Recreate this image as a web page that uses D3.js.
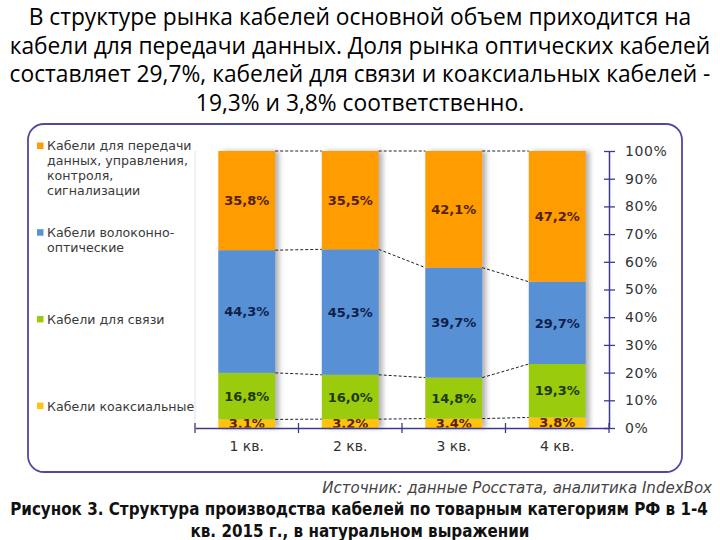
<!DOCTYPE html>
<html><head><meta charset="utf-8">
<script src="https://cdn.jsdelivr.net/npm/d3@7/dist/d3.min.js"></script>
<style>body{margin:0;background:#fff}</style></head>
<body><svg id="c" width="720" height="540"></svg>
<script>
// ---- data ----
const quarters = ["1 кв.", "2 кв.", "3 кв.", "4 кв."];
const seriesKeys = ["coax", "comm", "fiber", "data"];
const coaxial = [3.1, 3.2, 3.4, 3.8];
const communication = [16.8, 16.0, 14.8, 19.3];
const fiberOptic = [44.3, 45.3, 39.7, 29.7];
const dataCables = [35.8, 35.5, 42.1, 47.2];
const yTicks = [0, 10, 20, 30, 40, 50, 60, 70, 80, 90, 100];
const legendLabels = [
  ["Кабели для передачи", "данных, управления,", "контроля,", "сигнализации"],
  ["Кабели волоконно-", "оптические"],
  ["Кабели для связи"],
  ["Кабели коаксиальные"]
];
const legendKeys = ["data", "fiber", "comm", "coax"];
const titleLines = [
  "В структуре рынка кабелей основной объем приходится на",
  "кабели для передачи данных. Доля рынка оптических кабелей",
  "составляет 29,7%, кабелей для связи и коаксиальных кабелей -",
  "19,3% и 3,8% соответственно."
];
const sourceText = "Источник: данные Росстата, аналитика IndexBox";
const captionLines = [
  "Рисунок 3. Структура производства кабелей по товарным категориям РФ в 1-4",
  "кв. 2015 г., в натуральном выражении"
];

// ---- styles ----
const fill = {coax: "#FFC20E", comm: "#9BCB0C", fiber: "#5990D6", data: "#FF9C05"};
const labelColor = {coax: "#5a2400", comm: "#1f3800", fiber: "#0e1f4a", data: "#521f00"};
const axisColor = "#3d3a8e";

const rows = quarters.map((q, i) => ({q, coax: coaxial[i], comm: communication[i], fiber: fiberOptic[i], data: dataCables[i]}));
const stacked = d3.stack().keys(seriesKeys)(rows);

const svg = d3.select("#c");

const defs = svg.append("defs");
const f = defs.append("filter").attr("id", "sh").attr("x", "-20%").attr("y", "-5%").attr("width", "150%").attr("height", "110%");
f.append("feDropShadow").attr("dx", 4).attr("dy", 0).attr("stdDeviation", 2.5).attr("flood-color", "#777").attr("flood-opacity", 0.55);
defs.append("clipPath").attr("id", "plotclip").append("rect").attr("x", 150).attr("y", 140).attr("width", 460).attr("height", 287.5);

// title
const title = svg.append("g").attr("font-family", "'Open Sans', 'Noto Sans', sans-serif").attr("fill", "#000");
titleLines.forEach((t, i) => {
  title.append("text").attr("x", 360).attr("y", 25 + i * 28.6).attr("text-anchor", "middle").attr("font-size", 20).text(t);
});
{
  const n = title.selectAll("text").nodes();
  const w = n[1].getComputedTextLength();
  const fs = 20 * 701 / w;
  title.selectAll("text").attr("font-size", fs);
}

// chart box
svg.append("rect").attr("x", 28).attr("y", 124).attr("width", 654).attr("height", 348).attr("rx", 16)
  .attr("fill", "#fff").attr("stroke", "#4f4aa0").attr("stroke-width", 1.8);

// scales
const x = d3.scaleBand().domain(quarters).range([195, 609]).paddingInner(0.45).paddingOuter(0.225);
const xb = d3.scaleBand().domain(quarters).range([195, 609]);
const y = d3.scaleLinear().domain([0, 100]).range([428, 151]);

// plot left border
svg.append("line").attr("x1", 195).attr("x2", 195).attr("y1", y(100)).attr("y2", y(0)).attr("stroke", "#e2e2e2");

// bars
const barG = svg.append("g");
quarters.forEach((q, i) => {
  const g = barG.append("g").attr("filter", "url(#sh)");
  stacked.forEach(s => {
    const d = s[i];
    g.append("rect").attr("x", x(q)).attr("width", x.bandwidth())
      .attr("y", y(d[1])).attr("height", y(d[0]) - y(d[1])).attr("fill", fill[s.key]);
  });
});

// connector dashed lines
const conn = svg.append("g").attr("stroke", "#222").attr("stroke-width", 1).attr("stroke-dasharray", "3,2").attr("fill", "none");
stacked.forEach(s => {
  for (let i = 0; i < quarters.length - 1; i++) {
    conn.append("line")
      .attr("x1", x(quarters[i]) + x.bandwidth()).attr("y1", y(s[i][1]))
      .attr("x2", x(quarters[i + 1])).attr("y2", y(s[i + 1][1]));
  }
});

// data labels
const lab = svg.append("g").attr("clip-path", "url(#plotclip)").attr("font-family", "'DejaVu Sans', Verdana, sans-serif")
  .attr("font-weight", "bold").attr("font-size", 13).attr("text-anchor", "middle");
stacked.forEach(s => {
  quarters.forEach((q, i) => {
    const d = s[i];
    lab.append("text").attr("x", x(q) + x.bandwidth() / 2).attr("y", (y(d[0]) + y(d[1])) / 2)
      .attr("dy", "0.36em").attr("fill", labelColor[s.key])
      .text(d3.format(".1f")(d[1] - d[0]).replace(".", ",") + "%");
  });
});

// right y axis
const yAxis = d3.axisRight(y).tickValues(yTicks).tickSize(0).tickPadding(16).tickFormat(d => d + "%");
const ya = svg.append("g").attr("transform", "translate(609,0)").call(yAxis);
ya.select(".domain").attr("stroke", axisColor).attr("stroke-width", 1.5);
ya.selectAll(".tick text").attr("font-family", "'DejaVu Sans', Verdana, sans-serif").attr("font-size", 14).attr("letter-spacing", 0.6).attr("fill", "#333");
ya.selectAll(".tick").append("line").attr("x1", -5).attr("x2", 6).attr("stroke", axisColor).attr("stroke-width", 1.3);

// bottom x axis
const xAxis = d3.axisBottom(xb).tickSize(0).tickPadding(13);
const xa = svg.append("g").attr("transform", "translate(0,428)").call(xAxis);
xa.select(".domain").attr("stroke", axisColor).attr("stroke-width", 1.5);
xa.selectAll(".tick text").attr("font-family", "'DejaVu Sans', Verdana, sans-serif").attr("font-size", 14).attr("fill", "#333");
const bounds = quarters.map(q => xb(q)).concat([xb.range()[1]]);
xa.selectAll(".xt").data(bounds).enter().append("line").attr("class", "xt")
  .attr("x1", d => d).attr("x2", d => d).attr("y1", -5).attr("y2", 5).attr("stroke", axisColor).attr("stroke-width", 1.3);

// legend
const leg = svg.append("g").attr("font-family", "'DejaVu Sans', Verdana, sans-serif").attr("font-size", 12.6).attr("fill", "#3a3a3a");
legendKeys.forEach((k, i) => {
  const cy = 146 + i * 86.7;
  leg.append("rect").attr("x", 37).attr("y", cy - 3.5).attr("width", 6.5).attr("height", 6.5).attr("fill", fill[k]);
  legendLabels[i].forEach((t, j) => {
    leg.append("text").attr("x", 47).attr("y", cy + j * 14.8).attr("dy", "0.35em").text(t);
  });
});

// source
const src = svg.append("text").attr("x", 712).attr("y", 493).attr("text-anchor", "end")
  .attr("font-family", "'DejaVu Sans Condensed', 'DejaVu Sans', sans-serif").attr("font-style", "italic")
  .attr("font-size", 13).attr("fill", "#444").text(sourceText);
{
  const w = src.node().getComputedTextLength();
  src.attr("font-size", 13 * 390 / w);
}

// caption
const cap = svg.append("g").attr("font-family", "'DejaVu Sans Condensed', 'DejaVu Sans', sans-serif").attr("font-weight", "bold").attr("fill", "#111");
captionLines.forEach((t, i) => {
  cap.append("text").attr("x", i === 0 ? 359 : 360).attr("y", 515 + i * 22).attr("text-anchor", "middle").attr("font-size", 14).text(t);
});
{
  const n = cap.selectAll("text").nodes();
  const w = n[0].getComputedTextLength();
  cap.selectAll("text").attr("font-size", 14 * 698 / w);
}
</script>
</body></html>
